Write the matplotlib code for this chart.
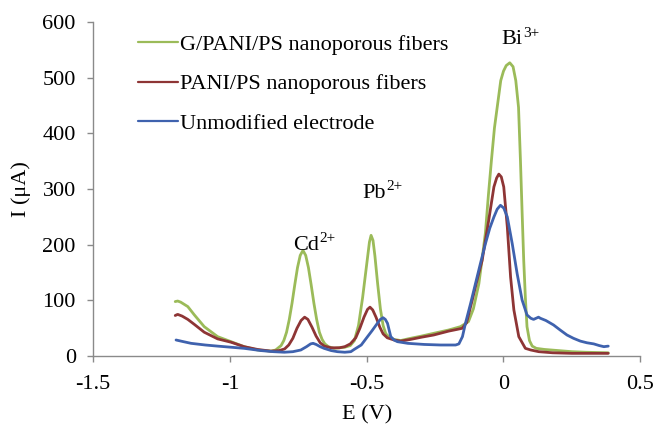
import matplotlib
matplotlib.use("Agg")
import matplotlib.pyplot as plt

plt.rcParams['font.family'] = ['Liberation Serif', 'DejaVu Serif']
plt.rcParams['axes.unicode_minus'] = False

# ---- data ----
green_x = [-1.2, -1.191, -1.18, -1.154, -1.13, -1.094, -1.045, -0.996, -0.948, -0.899, -0.85,
           -0.833, -0.813, -0.803, -0.793, -0.783, -0.773, -0.763, -0.753, -0.743, -0.733,
           -0.723, -0.713, -0.703, -0.693, -0.683, -0.673, -0.663, -0.653, -0.64, -0.62, -0.60,
           -0.58, -0.56, -0.545, -0.53, -0.515, -0.50, -0.49, -0.484, -0.477, -0.47, -0.46,
           -0.45, -0.44, -0.43, -0.415, -0.4, -0.376, -0.34, -0.3, -0.255, -0.2, -0.157,
           -0.128, -0.11, -0.09, -0.078, -0.066, -0.055, -0.044, -0.033, -0.023, -0.01, 0.0,
           0.01, 0.023, 0.035, 0.045, 0.055, 0.062, 0.068, 0.074, 0.08, 0.086, 0.095, 0.105,
           0.12, 0.15, 0.2, 0.25, 0.3, 0.383]
green_y = [98, 99, 97, 89, 74, 53, 35, 26, 17, 11, 9,
           11, 19, 28, 43, 66, 95, 128, 159, 181, 190,
           181, 159, 128, 95, 66, 43, 30, 22, 17, 14, 15,
           16, 19, 28, 55, 105, 165, 205, 217, 208, 180, 130,
           85, 55, 40, 33, 30, 28, 32, 36, 41, 47, 53,
           62, 85, 130, 175, 222, 290, 352, 410, 447, 495, 512,
           522, 527, 520, 495, 447, 352, 260, 172, 105, 53, 28, 18,
           14, 12, 10, 8, 7, 6]

red_x = [-1.2, -1.191, -1.175, -1.154, -1.13, -1.094, -1.045, -0.996, -0.948, -0.899, -0.85,
         -0.82, -0.80, -0.785, -0.77, -0.755, -0.74, -0.727, -0.715, -0.70, -0.685, -0.67,
         -0.655, -0.63, -0.6, -0.58, -0.56, -0.54, -0.525, -0.51, -0.497, -0.488, -0.478,
         -0.466, -0.452, -0.44, -0.425, -0.4, -0.376, -0.34, -0.3, -0.255, -0.2, -0.17,
         -0.151, -0.135, -0.114, -0.095, -0.078, -0.054, -0.035, -0.025, -0.017, -0.008,
         0.001, 0.014, 0.026, 0.038, 0.056, 0.08, 0.1, 0.129, 0.18, 0.25, 0.383]
red_y = [73, 75, 72, 66, 57, 43, 31, 25, 17, 12, 9,
         10, 13, 20, 32, 50, 64, 70, 66, 52, 36, 24,
         18, 15, 15, 17, 22, 33, 50, 70, 84, 88, 83,
         70, 52, 40, 33, 29, 27, 30, 34, 38, 45, 48,
         50, 60, 101, 140, 172, 244, 304, 320, 327, 322,
         304, 232, 142, 83, 35, 14, 11, 8, 6, 5, 5]

blue_x = [-1.197, -1.17, -1.142, -1.09, -1.045, -0.996, -0.948, -0.887, -0.84, -0.801, -0.77,
          -0.741, -0.72, -0.705, -0.696, -0.685, -0.67, -0.656, -0.63, -0.607, -0.58, -0.558,
          -0.546, -0.52, -0.497, -0.48, -0.461, -0.45, -0.44, -0.432, -0.424, -0.418, -0.412,
          -0.4, -0.388, -0.35, -0.29, -0.23, -0.175, -0.163, -0.15, -0.139, -0.12, -0.102,
          -0.085, -0.066, -0.05, -0.035, -0.023, -0.011, 0.001, 0.014, 0.032, 0.05, 0.068,
          0.086, 0.1, 0.11, 0.128, 0.135, 0.155, 0.183, 0.207, 0.232, 0.256, 0.281, 0.305,
          0.33, 0.35, 0.367, 0.383]
blue_y = [29, 26, 23, 20, 18, 16, 14, 10, 8, 7, 8,
          11, 17, 22, 23, 21, 17, 14, 10, 8, 7, 8,
          12, 20, 35, 46, 59, 66, 69, 66, 59, 47, 35,
          29, 26, 23, 21, 20, 20, 22, 35, 59, 95, 131,
          165, 202, 230, 250, 264, 271, 266, 250, 202, 148, 101,
          74, 68, 66, 70, 68, 64, 56, 47, 38, 32, 27, 24,
          22, 19, 17, 18]

series_labels = ["G/PANI/PS nanoporous fibers", "PANI/PS nanoporous fibers", "Unmodified electrode"]
series_colors = ["#9BBB59", "#8E3535", "#3F62AE"]

xticks = [-1.5, -1.0, -0.5, 0.0, 0.5]
xtick_labels = ["-1.5", "-1", "-0.5", "0", "0.5"]
yticks = [0, 100, 200, 300, 400, 500, 600]

peak_names = ["Cd", "Pb", "Bi"]
peak_charges = ["2+", "2+", "3+"]
peak_pos = [(-0.675, 199), (-0.431, 293), (0.069, 568)]

# ---- figure ----
fig = plt.figure(figsize=(6.56, 4.26), dpi=100)
ax = fig.add_axes([0.142, 0.164, 0.834, 0.784])

for xs, ys, lab, col in zip([green_x, red_x, blue_x], [green_y, red_y, blue_y],
                            series_labels, series_colors):
    ax.plot(xs, ys, color=col, lw=2.0, label=lab, solid_capstyle='round')

ax.set_xlim(-1.5, 0.5)
ax.set_ylim(0, 600)
ax.set_xticks(xticks)
ax.set_xticklabels(xtick_labels)
ax.set_yticks(yticks)

for s in ['top', 'right']:
    ax.spines[s].set_visible(False)
for s in ['left', 'bottom']:
    ax.spines[s].set_color('#8a8a8a')
    ax.spines[s].set_linewidth(1.0)
ax.tick_params(axis='both', direction='out', length=4.5, width=1.0, color='#8a8a8a',
               labelsize=16, labelcolor='black')
ax.tick_params(axis='y', pad=8)
ax.tick_params(axis='x', pad=9)

ax.set_xlabel("E (V)", fontsize=16)
ax.set_ylabel("I (\u03bcA)", fontsize=16)
ax.xaxis.set_label_coords(0.5, -0.148)
ax.yaxis.set_label_coords(-0.113, 0.5)

for name, chg, (px, py) in zip(peak_names, peak_charges, peak_pos):
    ax.text(px, py, name, fontsize=16, ha='right', va='center')
    ax.annotate(chg, xy=(px, py), xytext=(0.3, 5), textcoords='offset points',
                fontsize=11, ha='left', va='center')

leg = ax.legend(loc='upper left', bbox_to_anchor=(0.065, 0.99), frameon=False, fontsize=16,
                handlelength=1.8, handletextpad=0.1, labelspacing=0.85, borderaxespad=0)
for h in leg.get_lines():
    h.set_linewidth(1.6)

fig.savefig("out.png", dpi=100)
